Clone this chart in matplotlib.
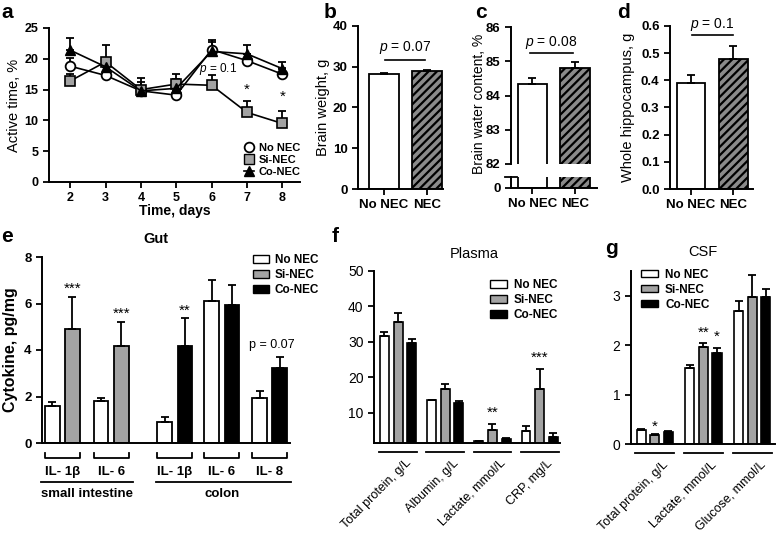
import matplotlib
matplotlib.use('Agg')
import matplotlib.pyplot as plt
from matplotlib.patches import Patch
from matplotlib.lines import Line2D
import numpy as np

plt.rcParams['font.family'] = ['Liberation Sans', 'DejaVu Sans']
plt.rcParams['mathtext.fontset'] = 'custom'
plt.rcParams['mathtext.it'] = 'Liberation Sans:italic'
plt.rcParams['mathtext.rm'] = 'Liberation Sans'
plt.rcParams['hatch.linewidth'] = 1.6
plt.rcParams['axes.linewidth'] = 1.4
plt.rcParams['xtick.major.width'] = 1.3
plt.rcParams['ytick.major.width'] = 1.3
plt.rcParams['xtick.major.size'] = 4
plt.rcParams['ytick.major.size'] = 4

# ---- data ----
# a: active time
days = [2, 3, 4, 5, 6, 7, 8]
act_nonec = [18.8, 17.3, 14.8, 14.1, 21.5, 19.7, 17.5]
act_nonec_err = [1.4, 0.6, 0.8, 0.6, 1.3, 1.0, 1.0]
act_si = [16.4, 19.5, 15.0, 15.9, 15.7, 11.3, 9.5]
act_si_err = [1.2, 2.7, 1.9, 1.7, 1.7, 1.9, 2.1]
act_co = [21.4, 18.7, 14.8, 15.2, 21.2, 20.8, 18.4]
act_co_err = [2.0, 1.2, 1.5, 1.6, 1.8, 1.5, 1.1]

# b, c, d
two_groups = ['No NEC', 'NEC']
brain_w = [28.1, 28.9]
brain_w_err = [0.35, 0.35]
water = [84.35, 84.8]
water_err = [0.17, 0.17]
hippo = [0.39, 0.477]
hippo_err = [0.028, 0.05]

# e: gut cytokines
cyto_labels = ['IL- 1\u03b2', 'IL- 6', 'IL- 1\u03b2', 'IL- 6', 'IL- 8']
cyto_nonec = [1.6, 1.82, 0.92, 6.1, 1.95]
cyto_nonec_err = [0.16, 0.13, 0.2, 0.9, 0.27]
cyto_nec = [4.9, 4.18, 4.18, 5.92, 3.22]
cyto_nec_err = [1.4, 1.02, 1.2, 0.86, 0.5]

# f: plasma
plasma_labels = ['Total protein, g/L', 'Albumin, g/L', 'Lactate, mmol/L', 'CRP, mg/L']
pl_nonec = [31.6, 13.5, 2.0, 4.8]
pl_nonec_err = [1.1, 0.0, 0.0, 1.4]
pl_si = [35.5, 16.6, 5.2, 16.8]
pl_si_err = [2.6, 1.4, 1.7, 5.5]
pl_co = [29.7, 12.7, 2.6, 3.1]
pl_co_err = [1.1, 0.5, 0.3, 1.1]

# g: CSF
csf_labels = ['Total protein, g/L', 'Lactate, mmol/L', 'Glucose, mmol/L']
csf_nonec = [0.29, 1.53, 2.69]
csf_nonec_err = [0.02, 0.07, 0.2]
csf_si = [0.18, 1.96, 2.98]
csf_si_err = [0.02, 0.08, 0.43]
csf_co = [0.24, 1.85, 2.98]
csf_co_err = [0.02, 0.1, 0.16]

W, H = 778, 534
fig = plt.figure(figsize=(W / 100, H / 100), dpi=100)


def rect(x0, y0, x1, y1):
    return [x0 / W, 1 - y1 / H, (x1 - x0) / W, (y1 - y0) / H]


def clean(ax, bold=True, size=9):
    ax.spines['top'].set_visible(False)
    ax.spines['right'].set_visible(False)
    for t in ax.get_xticklabels() + ax.get_yticklabels():
        t.set_fontsize(size)
        if bold:
            t.set_fontweight('bold')


def upper_err(ax, x, y, e, **kw):
    ax.errorbar(x, y, yerr=[np.zeros(len(e)), e], fmt='none', ecolor='black',
                elinewidth=1.3, capsize=3, capthick=1.3, **kw)


def letter(x, y, s):
    fig.text(x / W, 1 - y / H, s, fontsize=15, fontweight='bold', ha='center', va='center')


GREY = '#a3a3a3'
HATCH_GREY = '#8a8a8a'

# ---- a ----
ax = fig.add_axes(rect(49, 28, 300, 182))
upper_err(ax, days, act_nonec, act_nonec_err, zorder=2)
upper_err(ax, days, act_si, act_si_err, zorder=2)
upper_err(ax, days, act_co, act_co_err, zorder=2)
ax.plot(days, act_nonec, '-o', color='black', mfc='white', mec='black', ms=7, mew=1.3, lw=1.2, zorder=3)
ax.plot(days, act_si, '-s', color='black', mfc=GREY, mec='black', ms=7.5, mew=1.2, lw=1.2, zorder=3)
ax.plot(days, act_co, '-^', color='black', mfc='black', mec='black', ms=6.5, lw=1.2, zorder=3)
ax.set_xlim(1.4, 8.5)
ax.set_ylim(0, 25)
ax.set_xticks(days)
ax.set_yticks([0, 5, 10, 15, 20, 25])
clean(ax, size=9)
ax.set_xlabel('Time, days', fontsize=10, fontweight='bold', labelpad=0)
ax.set_ylabel('Active time, %', fontsize=10.5)
ax.yaxis.set_label_coords(-0.11, 0.5)
ax.text(7, 14.9, '*', ha='center', va='center', fontsize=11)
ax.text(8, 13.8, '*', ha='center', va='center', fontsize=11)
ax.text(6.18, 18.3, r'$\it{p}$ = 0.1', ha='center', va='center', fontsize=8.5)
hs = [Line2D([], [], marker='o', ls='none', mfc='white', mec='black', ms=7, mew=1.3),
      Line2D([], [], marker='s', ls='none', mfc=GREY, mec='black', ms=7),
      Line2D([], [], marker='^', ls='-', color='black', ms=6.5, lw=1.2)]
ax.legend(hs, ['No NEC', 'Si-NEC', 'Co-NEC'], loc='upper left', bbox_to_anchor=(0.76, 0.28),
          frameon=False, handlelength=0.9, handletextpad=0.4, labelspacing=0.15, borderaxespad=0,
          prop={'size': 8, 'weight': 'bold'})
letter(7, 13, 'a')

# ---- b ----
ax = fig.add_axes(rect(358, 26, 443, 189))
ax.bar(0, brain_w[0], width=0.69, color='white', edgecolor='black', lw=1.3)
ax.bar(1, brain_w[1], width=0.69, color=HATCH_GREY, edgecolor='black', lw=1.3, hatch='////')
upper_err(ax, [0, 1], brain_w, brain_w_err)
ax.set_xlim(-0.6, 1.36)
ax.set_ylim(0, 40)
ax.set_yticks([0, 10, 20, 30, 40])
ax.set_xticks([0, 1])
ax.set_xticklabels(two_groups)
clean(ax, size=9.5)
ax.set_ylabel('Brain weight, g', fontsize=10.5)
ax.yaxis.set_label_coords(-0.33, 0.5)
ax.plot([0.02, 0.94], [31.7, 31.7], color='black', lw=1.2)
ax.text(0.48, 34.8, r'$\it{p}$ = 0.07', ha='center', va='center', fontsize=10)
letter(330, 12, 'b')

# ---- c (broken axis) ----
axt = fig.add_axes(rect(511, 27, 597, 164))
axb = fig.add_axes(rect(511, 177, 597, 188))
for a_ in (axt, axb):
    a_.bar(0, water[0], width=0.69, color='white', edgecolor='black', lw=1.3)
    a_.bar(1, water[1], width=0.69, color=HATCH_GREY, edgecolor='black', lw=1.3, hatch='////')
    a_.set_xlim(-0.506, 1.52)
upper_err(axt, [0, 1], water, water_err)
axt.set_ylim(82, 86)
axt.set_yticks([82, 83, 84, 85, 86])
axt.set_xticks([])
axt.spines['bottom'].set_visible(False)
clean(axt, size=9.5)
axb.set_ylim(0, 1)
axb.set_yticks([0])
axb.set_xticks([0, 1])
axb.set_xticklabels(two_groups)
clean(axb, size=9.5)
axb.plot([-0.07, 0.07], [1, 1], transform=axb.transAxes, color='black', lw=1.3, clip_on=False)
fig.text(479 / W, 1 - 104 / H, 'Brain water content, %', rotation=90, ha='center', va='center', fontsize=10)
axt.plot([-0.06, 0.95], [85.24, 85.24], color='black', lw=1.2)
axt.text(0.44, 85.55, r'$\it{p}$ = 0.08', ha='center', va='center', fontsize=10)
letter(481, 13, 'c')

# ---- d ----
ax = fig.add_axes(rect(670, 26, 753, 189))
ax.bar(0, hippo[0], width=0.67, color='white', edgecolor='black', lw=1.3)
ax.bar(1, hippo[1], width=0.67, color=HATCH_GREY, edgecolor='black', lw=1.3, hatch='////')
upper_err(ax, [0, 1], hippo, hippo_err)
ax.set_xlim(-0.49, 1.46)
ax.set_ylim(0, 0.6)
ax.set_yticks([0, 0.1, 0.2, 0.3, 0.4, 0.5, 0.6])
ax.set_yticklabels(['0.0', '0.1', '0.2', '0.3', '0.4', '0.5', '0.6'])
ax.set_xticks([0, 1])
ax.set_xticklabels(two_groups)
clean(ax, size=9.5)
ax.set_ylabel('Whole hippocampus, g', fontsize=10.5)
ax.yaxis.set_label_coords(-0.42, 0.5)
ax.plot([0.02, 1.0], [0.566, 0.566], color='black', lw=1.2)
ax.text(0.5, 0.607, r'$\it{p}$ = 0.1', ha='center', va='center', fontsize=10, clip_on=False)
letter(623, 12, 'd')

# ---- e ----
ax = fig.add_axes(rect(42, 257, 290, 443))
pos = np.array([0, 1.02, 2.35, 3.33, 4.33])
off, bw = 0.21, 0.31
nec_cols = [GREY, GREY, 'black', 'black', 'black']
ax.bar(pos - off, cyto_nonec, width=bw, color='white', edgecolor='black', lw=1.3)
ax.bar(pos + off, cyto_nec, width=bw, color=nec_cols, edgecolor='black', lw=1.3)
upper_err(ax, pos - off, cyto_nonec, cyto_nonec_err)
upper_err(ax, pos + off, cyto_nec, cyto_nec_err)
ax.set_xlim(-0.42, 4.75)
ax.set_ylim(0, 8)
ax.set_yticks([0, 2, 4, 6, 8])
ax.set_xticks([])
clean(ax, size=9.5)
ax.set_ylabel('Cytokine, pg/mg', fontsize=11.5, fontweight='bold')
ax.yaxis.set_label_coords(-0.097, 0.5)
ax.set_title('Gut', fontsize=10.5, fontweight='bold', x=0.46, y=1.03)
tr = ax.get_xaxis_transform()
for p, lab in zip(pos, cyto_labels):
    l, r = p - off - bw / 2, p + off + bw / 2
    ax.plot([l, l, r, r], [-0.053, -0.078, -0.078, -0.053], transform=tr, color='black', lw=1.3, clip_on=False)
    ax.text(p, -0.155, lab, transform=tr, ha='center', va='center', fontsize=9.5, fontweight='bold')
ax.plot([pos[0] - 0.45, pos[1] + 0.45], [-0.21, -0.21], transform=tr, color='black', lw=1.3, clip_on=False)
ax.plot([pos[2] - 0.4, pos[4] + 0.45], [-0.21, -0.21], transform=tr, color='black', lw=1.3, clip_on=False)
ax.text((pos[0] + pos[1]) / 2, -0.275, 'small intestine', transform=tr, ha='center', va='center',
        fontsize=9.5, fontweight='bold')
ax.text(pos[3], -0.275, 'colon', transform=tr, ha='center', va='center', fontsize=9.5, fontweight='bold')
ax.text(pos[0] + off, 6.63, '***', ha='center', va='center', fontsize=11)
ax.text(pos[1] + off, 5.55, '***', ha='center', va='center', fontsize=11)
ax.text(pos[2] + off, 5.7, '**', ha='center', va='center', fontsize=11)
ax.text(pos[4] + 0.05, 4.2, 'p = 0.07', ha='center', va='center', fontsize=9)
hs = [Patch(facecolor='white', edgecolor='black'), Patch(facecolor=GREY, edgecolor='black'),
      Patch(facecolor='black', edgecolor='black')]
ax.legend(hs, ['No NEC', 'Si-NEC', 'Co-NEC'], loc='upper left', bbox_to_anchor=(0.83, 1.04),
          frameon=False, handlelength=1.4, handleheight=0.6, handletextpad=0.5, labelspacing=0.25,
          borderaxespad=0, prop={'size': 8.5, 'weight': 'bold'})
letter(7, 237, 'e')


def three_bars(ax, n, vals, errs, off, bw):
    x = np.arange(n)
    cols = ['white', GREY, 'black']
    for k, (v, e) in enumerate(zip(vals, errs)):
        xx = x + (k - 1) * off
        ax.bar(xx, v, width=bw, color=cols[k], edgecolor='black', lw=1.2)
        upper_err(ax, xx, v, e)
    return x


def group_labels(ax, x, names, yline, ylab):
    tr = ax.get_xaxis_transform()
    for c, n in zip(x, names):
        ax.plot([c - 0.4, c + 0.4], [yline, yline], transform=tr, color='black', lw=1.3, clip_on=False)
        ax.text(c + 0.15, ylab, n, transform=tr, rotation=45, ha='right', va='top',
                rotation_mode='anchor', fontsize=9)


def legend3(ax, anchor):
    hs = [Patch(facecolor='white', edgecolor='black'), Patch(facecolor=GREY, edgecolor='black'),
          Patch(facecolor='black', edgecolor='black')]
    ax.legend(hs, ['No NEC', 'Si-NEC', 'Co-NEC'], loc='upper left', bbox_to_anchor=anchor,
              frameon=False, handlelength=1.4, handleheight=0.6, handletextpad=0.6, labelspacing=0.25,
              borderaxespad=0, prop={'size': 8.5, 'weight': 'bold'})


# ---- f ----
ax = fig.add_axes(rect(374, 271, 560, 442.7))
x = three_bars(ax, 4, [pl_nonec, pl_si, pl_co], [pl_nonec_err, pl_si_err, pl_co_err], 0.29, 0.19)
ax.set_xlim(-0.51, 3.43)
ax.set_ylim(1.5, 50)
ax.set_yticks([10, 20, 30, 40, 50])
ax.set_xticks([])
clean(ax, bold=False, size=10)
group_labels(ax, x, plasma_labels, -0.054, -0.085)
ax.set_title('Plasma', fontsize=10.5, x=0.54, y=1.03)
ax.text(2, 10.0, '**', ha='center', va='center', fontsize=11)
ax.text(3, 25.4, '***', ha='center', va='center', fontsize=11)
legend3(ax, (0.6, 0.98))
letter(335, 237, 'f')

# ---- g ----
ax = fig.add_axes(rect(631, 271, 775, 444))
x = three_bars(ax, 3, [csf_nonec, csf_si, csf_co], [csf_nonec_err, csf_si_err, csf_co_err], 0.28, 0.19)
ax.set_xlim(-0.49, 2.47)
ax.set_ylim(0, 3.5)
ax.set_yticks([0, 1, 2, 3])
ax.set_xticks([])
clean(ax, bold=False, size=10)
group_labels(ax, x, csf_labels, -0.052, -0.085)
ax.set_title('CSF', fontsize=10.5, x=0.5, y=1.04)
ax.text(0, 0.35, '*', ha='center', va='center', fontsize=11)
ax.text(1, 2.24, '**', ha='center', va='center', fontsize=11)
ax.text(1.28, 2.16, '*', ha='center', va='center', fontsize=11)
legend3(ax, (0.04, 1.04))
letter(612, 249, 'g')

fig.savefig('out.png', dpi=100)
